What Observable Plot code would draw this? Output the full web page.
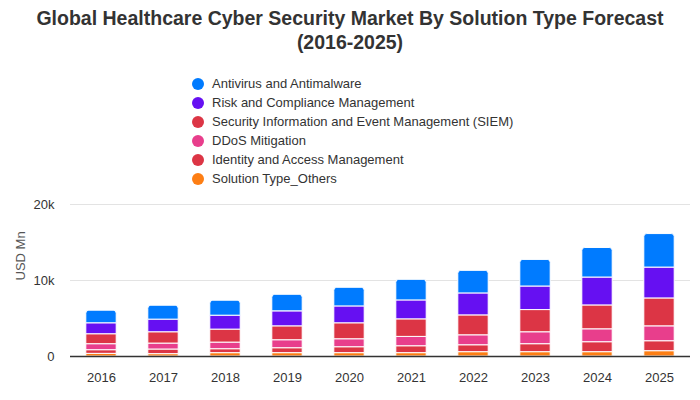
<!DOCTYPE html>
<html><head><meta charset="utf-8">
<script src="https://cdn.jsdelivr.net/npm/d3@7"></script>
<script src="https://cdn.jsdelivr.net/npm/@observablehq/plot@0.6"></script>
<style>
body{margin:0;background:#fff;font-family:"Liberation Sans",Arial,sans-serif;}
#wrap{position:relative;width:700px;height:400px;overflow:hidden;}
#title{position:absolute;top:6px;left:0;width:700px;text-align:center;font-weight:bold;font-size:19.5px;line-height:24px;color:#333;}
#legend{position:absolute;top:74px;left:192px;font-size:13px;color:#333;}
.li{height:19px;line-height:19px;display:flex;align-items:center;}
.dot{width:12px;height:12px;border-radius:50%;margin-right:8px;}
#chart{position:absolute;top:190px;left:0;}
</style></head>
<body><div id="wrap">
<div id="title">Global Healthcare Cyber Security Market By Solution Type Forecast<br>(2016-2025)</div>
<div id="legend"></div>
<div id="chart"></div>
</div>
<script>
const years = ["2016","2017","2018","2019","2020","2021","2022","2023","2024","2025"];
// bottom to top
const others   = [0.35,0.31,0.44,0.44,0.44,0.44,0.57,0.57,0.57,0.70];
const identity = [0.48,0.61,0.52,0.65,0.78,0.91,0.91,1.05,1.31,1.31];
const ddos     = [0.79,0.78,0.87,1.05,1.05,1.23,1.31,1.57,1.70,1.96];
const siem     = [1.31,1.49,1.71,1.83,2.10,2.31,2.62,2.92,3.14,3.67];
const risk     = [1.44,1.66,1.83,1.97,2.22,2.49,2.89,3.10,3.67,4.06];
const antivirus= [1.66,1.83,1.97,2.18,2.45,2.71,2.97,3.50,3.89,4.41];

const seriesNames = ["Solution Type_Others","Identity and Access Management","DDoS Mitigation","Security Information and Event Management (SIEM)","Risk and Compliance Management","Antivirus and Antimalware"];
const seriesValues = [others, identity, ddos, siem, risk, antivirus];
const seriesColors = ["#fd7e14","#dc3545","#e83e8c","#dc3545","#6610f2","#007bff"];

const lowerRows = [];
seriesNames.slice(0,5).forEach((s,i)=>years.forEach((y,j)=>lowerRows.push({year:y, series:s, value:seriesValues[i][j]*1000})));
// top series drawn separately (rounded top corners), stacked on the sum of the others
const topRows = years.map((y,j)=>{
  const base = seriesValues.slice(0,5).reduce((a,arr)=>a+arr[j],0)*1000;
  return {year:y, series:seriesNames[5], y1:base, y2:base+antivirus[j]*1000};
});

const legend = document.getElementById("legend");
for (let i = seriesNames.length-1; i>=0; i--) {
  const d = document.createElement("div"); d.className="li";
  d.innerHTML = `<span class="dot" style="background:${seriesColors[i]}"></span><span>${seriesNames[i]}</span>`;
  legend.appendChild(d);
}

const chart = Plot.plot({
  width: 700, height: 210,
  marginTop: 14, marginBottom: 44, marginLeft: 70, marginRight: 10,
  style: {fontFamily: '"Liberation Sans",Arial,sans-serif', fontSize: "13px", color: "#333"},
  x: {domain: years, paddingInner: 0.51, paddingOuter: 0.255, round: false, label: null, tickSize: 0, tickPadding: 16},
  y: {domain: [0,20000], ticks: [0,10000,20000], tickFormat: d => d===0 ? "0" : d/1000+"k", label: null, tickSize: 0, tickPadding: 16},
  color: {domain: seriesNames, range: seriesColors},
  marks: [
    Plot.gridY([10000,20000], {stroke: "#e3e3e3", strokeOpacity: 1}),
    Plot.barY(lowerRows, {x: "year", y: "value", fill: "series", order: seriesNames, stroke: "white", strokeWidth: 1}),
    Plot.barY(topRows, {x: "year", y1: "y1", y2: "y2", fill: "series", stroke: "white", strokeWidth: 1, ry1: 3}),
    Plot.ruleY([0], {stroke: "#333", strokeWidth: 1.5}),
    Plot.text(["USD Mn"], {frameAnchor: "left", dx: -50, rotate: -90, fontSize: 13, fill: "#555"})
  ]
});
document.getElementById("chart").appendChild(chart);
</script>
</body></html>
